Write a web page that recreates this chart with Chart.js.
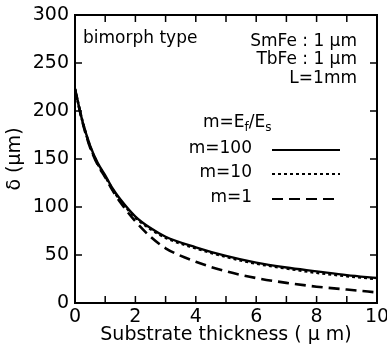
<!DOCTYPE html>
<html><head><meta charset="utf-8">
<script src="https://cdn.jsdelivr.net/npm/chart.js@4/dist/chart.umd.min.js"></script>
<style>html,body{margin:0;padding:0;background:#fff}#wrap{width:387px;height:346px}</style>
</head><body><div id="wrap"><canvas id="c" width="387" height="346"></canvas></div>
<script>
// Substrate thickness (μm)
const thickness = [0, 0.25, 0.5, 0.75, 1, 1.25, 1.5, 2, 2.5, 3, 4, 5, 6, 7, 8, 9, 10];
// δ (μm) for each modulus ratio m = Ef/Es
const deltaM100 = [223, 189, 164, 146, 133, 119, 108, 90, 78, 69, 58, 49, 42, 37, 33, 29, 26];
const deltaM10  = [223, 189, 163, 145, 132, 118, 107, 89, 77, 68, 57, 48, 41, 36, 31.5, 28, 25];
const deltaM1   = [223, 188, 162, 144, 131, 117, 105, 85, 69, 57, 43, 33, 26, 21, 17, 14, 11];
const seriesLabels = ['m=100', 'm=10', 'm=1'];
const xTickValues = [0, 2, 4, 6, 8, 10];
const yTickValues = [0, 50, 100, 150, 200, 250, 300];
const minorXTicks = [0, 1, 2, 3, 4, 5, 6, 7, 8, 9, 10];

const FONT = "'DejaVu Sans', 'Liberation Sans', sans-serif";
const toPts = ys => thickness.map((x, i) => ({x, y: ys[i]}));

const dashes = [[], [3, 3], [11, 6]];
const datasets = [deltaM100, deltaM10, deltaM1].map((d, i) => ({
  label: seriesLabels[i],
  data: toPts(d),
  borderColor: '#000',
  borderWidth: i === 0 ? 2.4 : 2.6,
  borderDash: dashes[i],
  pointRadius: 0,
  fill: false,
  cubicInterpolationMode: 'monotone'
}));

const decor = {
  id: 'decor',
  afterDraw(chart) {
    const ctx = chart.ctx;
    const a = chart.chartArea;
    const xs = chart.scales.x, ys = chart.scales.y;
    ctx.save();
    ctx.strokeStyle = '#000';
    ctx.lineWidth = 2;
    ctx.setLineDash([]);
    ctx.strokeRect(a.left, a.top, a.right - a.left, a.bottom - a.top);
    ctx.lineWidth = 1.5;
    const tl = 7;
    ctx.beginPath();
    minorXTicks.forEach(v => {
      const px = xs.getPixelForValue(v);
      ctx.moveTo(px, a.bottom); ctx.lineTo(px, a.bottom - tl);
      ctx.moveTo(px, a.top); ctx.lineTo(px, a.top + tl);
    });
    yTickValues.forEach(v => {
      const py = ys.getPixelForValue(v);
      ctx.moveTo(a.left, py); ctx.lineTo(a.left + tl, py);
      ctx.moveTo(a.right, py); ctx.lineTo(a.right - tl, py);
    });
    ctx.stroke();

    // annotations
    ctx.fillStyle = '#000';
    ctx.font = '17px ' + FONT;
    ctx.textBaseline = 'alphabetic';
    ctx.textAlign = 'left';
    ctx.fillText('bimorph type', 83, 43);
    ctx.textAlign = 'right';
    ctx.fillText('SmFe : 1 μm', 357, 46);
    ctx.fillText('TbFe : 1 μm', 357, 64);
    ctx.fillText('L=1mm', 357, 83);
    // m=Ef/Es
    ctx.textAlign = 'left';
    let x0 = 203;
    ctx.fillText('m=E', x0, 127);
    x0 += ctx.measureText('m=E').width;
    ctx.font = '12px ' + FONT;
    ctx.fillText('f', x0, 131);
    x0 += ctx.measureText('f').width;
    ctx.font = '17px ' + FONT;
    ctx.fillText('/E', x0, 127);
    x0 += ctx.measureText('/E').width;
    ctx.font = '12px ' + FONT;
    ctx.fillText('s', x0, 131);

    // legend
    ctx.font = '17px ' + FONT;
    ctx.textAlign = 'right';
    const rows = [[153, 150], [177, 174], [202, 199]];
    seriesLabels.forEach((lab, i) => {
      ctx.fillText(lab, 252, rows[i][0]);
      ctx.beginPath();
      ctx.lineWidth = 2;
      ctx.setLineDash(dashes[i]);
      ctx.moveTo(272, rows[i][1]);
      ctx.lineTo(340, rows[i][1]);
      ctx.stroke();
    });
    ctx.restore();
  }
};

new Chart(document.getElementById('c'), {
  type: 'line',
  data: { datasets },
  options: {
    responsive: false,
    devicePixelRatio: 1,
    animation: false,
    layout: { padding: { top: 15, right: 10, left: 0, bottom: 0 } },
    plugins: { legend: { display: false }, tooltip: { enabled: false } },
    scales: {
      x: {
        type: 'linear', min: 0, max: 10,
        afterBuildTicks: s => { s.ticks = xTickValues.map(v => ({value: v})); },
        afterFit: s => { s.height = 43; s.paddingLeft = 0; s.paddingRight = 0; },
        grid: { display: false, drawTicks: false },
        border: { display: false },
        ticks: { color: '#000', font: { size: 19, family: FONT }, padding: 3, maxRotation: 0 },
        title: { display: true, text: 'Substrate thickness ( μ m)', color: '#000',
                 font: { size: 19, family: FONT }, padding: { top: 0, bottom: 0 } }
      },
      y: {
        min: 0, max: 300,
        afterBuildTicks: s => { s.ticks = yTickValues.map(v => ({value: v})); },
        afterFit: s => { s.width = 75; s.paddingTop = 0; s.paddingBottom = 0; },
        grid: { display: false, drawTicks: false },
        border: { display: false },
        ticks: { color: '#000', font: { size: 19, family: FONT }, padding: 6 },
        title: { display: true, text: 'δ (μm)', color: '#000',
                 font: { size: 19, family: FONT }, padding: { top: 4, bottom: 0 } }
      }
    }
  },
  plugins: [decor]
});
</script></body></html>
